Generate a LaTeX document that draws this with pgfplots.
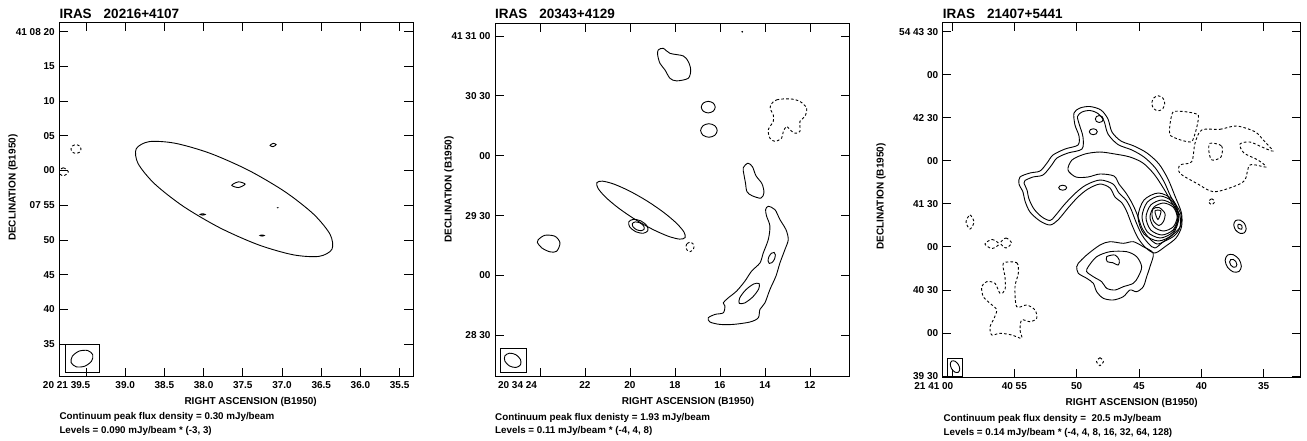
\documentclass[border=0pt]{standalone}
\usepackage{pgfplots}
\pgfplotsset{compat=1.18}
\usepackage{fontspec}
\setmainfont{Liberation Sans}
\pgfplotsset{
  mapax/.style={scale only axis, anchor=south west, x dir=reverse,
    axis line style={line width=0.9pt}, tick style={line width=0.8pt, black},
    major tick length=8.5pt, tick align=inside, minor tick num=0,
    tick label style={font=\fontsize{10}{12}\selectfont\bfseries},
    label style={font=\fontsize{10}{12}\selectfont\bfseries},
    xticklabel shift=1.5pt, yticklabel shift=1pt,
    xlabel={RIGHT ASCENSION (B1950)}, ylabel={DECLINATION (B1950)}},
  c/.style={black, line width=0.9pt, smooth cycle, mark=none},
  d/.style={c, dash pattern=on 2.6pt off 2.2pt},
  bx/.style={black, line width=0.8pt, sharp plot, mark=none},
}
\begin{document}
\begin{tikzpicture}
\path[use as bounding box] (0pt,0pt) rectangle (1307pt,440pt);
% ================= Panel 1 =================
\begin{axis}[mapax, at={(59.3pt,63.3pt)}, width=353.7pt, height=354pt,
  xmin=35.33, xmax=39.84, ymin=-29.7, ymax=21.3,
  xtick={39.5,39,38.5,38,37.5,37,36.5,36,35.5},
  xticklabels={{\makebox[8.6pt][r]{20 21 39.5}},39.0,38.5,38.0,37.5,37.0,36.5,36.0,35.5},
  ytick={-25,-20,-15,-10,-5,0,5,10,15,20},
  yticklabels={35,40,45,50,07 55,00,05,10,15,41 08 20},
  xlabel style={at={(axis description cs:0.541,-0.0706)}, anchor=center},
  ylabel style={at={(axis description cs:-0.131,0.534)}, anchor=center}]
\addplot[c] coordinates {(36.363,-11.332) (36.528,-12.365) (36.859,-12.134) (37.304,-10.688) (37.796,-8.232) (38.260,-5.148) (38.625,-1.908) (38.835,0.999) (38.859,3.132) (38.694,4.165) (38.363,3.934) (37.918,2.488) (37.426,0.032) (36.962,-3.052) (36.597,-6.292) (36.387,-9.199)};
\addplot[c] coordinates {(37.641,-2.12) (37.556,-1.63) (37.471,-1.96) (37.556,-2.45)};
\addplot[c] coordinates {(37.152,3.62) (37.114,3.92) (37.076,3.74) (37.114,3.44)};
\addplot[c] coordinates {(38.044,-6.32) (38.012,-6.22) (37.98,-6.32) (38.012,-6.42)};
\addplot[c] coordinates {(37.28,-9.36) (37.254,-9.28) (37.228,-9.36) (37.254,-9.44)};
\addplot[c, line width=0.6pt] coordinates {(37.06,-5.36) (37.054,-5.33) (37.048,-5.36) (37.054,-5.39)};
\addplot[d] coordinates {(39.691,3.10) (39.672,3.545) (39.627,3.73) (39.582,3.545) (39.563,3.10) (39.582,2.655) (39.627,2.47) (39.672,2.655)};
\addplot[d] coordinates {(39.853,-0.19) (39.789,0.39) (39.725,-0.19) (39.789,-0.77)};
\addplot[bx] coordinates {(39.76,-25.07) (39.334,-25.07) (39.334,-29.13) (39.76,-29.13) (39.76,-25.07)};
\addplot[c] coordinates {(39.413,-26.53) (39.429,-27.468) (39.516,-28.19) (39.624,-28.274) (39.689,-27.67) (39.673,-26.732) (39.586,-26.01) (39.478,-25.926)};
\end{axis}
\node[anchor=base west, inner sep=0pt, font=\fontsize{13.5}{16}\selectfont\bfseries] at (59.3pt,421pt) {IRAS\hspace{12pt}20216+4107};
\node[anchor=base west, inner sep=0pt, font=\fontsize{9.8}{12}\selectfont\bfseries] at (59.3pt,21pt) {Continuum peak flux density = 0.30 mJy/beam};
\node[anchor=base west, inner sep=0pt, font=\fontsize{9.8}{12}\selectfont\bfseries] at (59.3pt,6.7pt) {Levels = 0.090 mJy/beam * (-3, 3)};
% ================= Panel 2 =================
\begin{axis}[mapax, at={(495pt,63.3pt)}, width=354.3pt, height=353.4pt,
  xmin=10.25, xmax=26.0, ymin=-110.7, ymax=66.35,
  xtick={24,22,20,18,16,14,12},
  xticklabels={{\makebox[0pt][r]{20 34 24\hspace{3pt}}},22,20,18,16,14,12},
  ytick={-90,-60,-30,0,30,60},
  yticklabels={28 30,00,29 30,00,30 30,41 31 00},
  xlabel style={at={(axis description cs:0.545,-0.0707)}, anchor=center},
  ylabel style={at={(axis description cs:-0.130,0.530)}, anchor=center}]
\addplot[c] coordinates {(18.742,53) (18.52,53.8) (18.222,51.3) (17.631,50) (17.409,47.2) (17.30,43) (17.409,38.8) (17.93,37.5) (18.222,38.8) (18.444,43) (18.667,46.3) (18.769,50.5)};
\addplot[c] coordinates {(16.831,24.35) (16.74,26.40) (16.52,27.25) (16.30,26.40) (16.209,24.35) (16.30,22.30) (16.52,21.45) (16.74,22.30)};
\addplot[c] coordinates {(16.86,12.65) (16.752,15.05) (16.49,16.05) (16.228,15.05) (16.12,12.65) (16.228,10.25) (16.49,9.25) (16.752,10.25)};
\addplot[d] coordinates {(13.747,25.5) (13.48,28) (12.889,28.5) (12.444,27.2) (12.148,23.8) (12.222,19.7) (12.444,17.2) (12.444,12.2) (12.667,11.3) (12.889,13) (13.037,14.7) (13.185,12.2) (13.259,8.8) (13.556,7.2) (13.778,8.8) (13.852,13) (13.63,17.2) (13.63,20.5) (13.747,23)};
\addplot[c] coordinates {(14.964,-6) (14.756,-3.75) (14.556,-5.5) (14.40,-10) (14.133,-14) (14.044,-18.5) (14.178,-21.25) (14.578,-20) (14.80,-18) (14.867,-13.5) (14.933,-9.5)};
\addplot[c] coordinates {(13.852,-25.35) (13.556,-27) (13.333,-32) (13.067,-37) (12.963,-42) (13.111,-47) (13.333,-53.7) (13.511,-60.3) (13.778,-67) (14.0,-73.7) (14.222,-77) (14.296,-81.2) (14.667,-83.3) (15.407,-84.5) (16.0,-84.5) (16.444,-83.3) (16.52,-81.2) (16.222,-79.5) (15.852,-78.7) (15.778,-75.3) (15.852,-73.7) (15.63,-71.2) (15.259,-67.8) (14.889,-62.8) (14.593,-57.8) (14.222,-53.7) (14.074,-48.7) (13.852,-42) (13.778,-35.3) (13.926,-30.3) (13.97,-27)};
\addplot[c] coordinates {(13.593,-48.45) (13.537,-49.68) (13.577,-51.8) (13.689,-53.57) (13.807,-53.95) (13.863,-52.72) (13.823,-50.6) (13.711,-48.83)};
\addplot[c] coordinates {(14.26,-64.05) (14.278,-66.75) (14.543,-70.77) (14.90,-73.75) (15.14,-73.95) (15.122,-71.25) (14.857,-67.23) (14.50,-64.25)};
\addplot[c] coordinates {(17.551,-41.03) (17.799,-41.77) (18.308,-40.29) (18.999,-36.84) (19.77,-31.915) (20.501,-26.28) (21.08,-20.805) (21.421,-16.307) (21.471,-13.47) (21.223,-12.733) (20.714,-14.209) (20.023,-17.662) (19.252,-22.585) (18.521,-28.218) (17.942,-33.695) (17.601,-38.193)};
\addplot[c] coordinates {(19.208,-37.57) (19.412,-38.84) (19.744,-38.07) (20.01,-35.70) (20.054,-33.13) (19.85,-31.86) (19.518,-32.63) (19.252,-35.0)};
\addplot[c] coordinates {(19.369,-36.725) (19.497,-37.54) (19.703,-37.07) (19.867,-35.59) (19.893,-33.975) (19.765,-33.16) (19.56,-33.63) (19.395,-35.11)};
\addplot[c] coordinates {(24.076,-42) (23.778,-39.85) (23.333,-40.35) (23.111,-43.65) (23.258,-47.85) (23.556,-48.15) (23.924,-46.15) (24.12,-43.35)};
\addplot[d] coordinates {(17.511,-45.65) (17.459,-43.95) (17.333,-43.25) (17.207,-43.95) (17.155,-45.65) (17.207,-47.35) (17.333,-48.05) (17.459,-47.35)};
\addplot[only marks, mark=*, mark size=0.6pt, black] coordinates {(15.01,62.15)};
\addplot[bx] coordinates {(25.778,-96.65) (24.591,-96.65) (24.591,-108.35) (25.778,-108.35) (25.778,-96.65)};
\addplot[c] coordinates {(24.866,-104.75) (25.07,-106.08) (25.357,-105.315) (25.56,-102.9) (25.56,-100.25) (25.356,-98.92) (25.069,-99.685) (24.866,-102.1)};
\end{axis}
\node[anchor=base west, inner sep=0pt, font=\fontsize{13.5}{16}\selectfont\bfseries] at (495pt,421pt) {IRAS\hspace{12pt}20343+4129};
\node[anchor=base west, inner sep=0pt, font=\fontsize{9.8}{12}\selectfont\bfseries] at (495pt,20pt) {Continuum peak flux denisty = 1.93 mJy/beam};
\node[anchor=base west, inner sep=0pt, font=\fontsize{9.8}{12}\selectfont\bfseries] at (495pt,6.7pt) {Levels = 0.11 mJy/beam * (-4, 4, 8)};
% ================= Panel 3 =================
\begin{axis}[mapax, at={(942.7pt,62.3pt)}, width=357.3pt, height=355pt,
  xmin=32.09, xmax=60.746, ymin=-151.2, ymax=96.3,
  xtick={60,55,50,45,40,35},
  xticklabels={{\makebox[2.6pt][r]{21 41 00}},40 55,50,45,40,35},
  ytick={-150,-120,-90,-60,-30,0,30,60,90},
  yticklabels={39 30,00,40 30,00,41 30,00,42 30,00,54 43 30},
  xlabel style={at={(axis description cs:0.529,-0.0721)}, anchor=center},
  ylabel style={at={(axis description cs:-0.1727,0.5104)}, anchor=center}]
% main emission, level 4
\addplot[c] coordinates {(50.217,33.33) (49.736,36.81) (48.934,37.86) (48.052,35.42) (47.49,29.15) (47.17,20.08) (46.448,13.81) (45.405,10.33) (44.363,5.45) (43.40,-2.22) (42.679,-12.68) (42.118,-24.53) (41.596,-36.38) (41.596,-46.14) (42.037,-53.81) (42.839,-59.38) (43.722,-64.26) (44.443,-60.77) (45.085,-53.81) (45.566,-44.74) (45.967,-35.68) (46.368,-29.41) (46.929,-25.22) (47.33,-18.95) (48.132,-16.16) (49.094,-19.65) (49.896,-25.22) (50.698,-32.89) (51.50,-41.26) (52.141,-44.74) (52.943,-41.95) (53.745,-35.68) (54.146,-28.01) (54.307,-21.74) (54.627,-16.16) (54.547,-11.28) (53.745,-8.49) (52.943,-7.10) (52.382,-1.53) (51.901,4.05) (50.939,8.23) (49.896,11.02) (49.816,17.30) (50.137,24.96)};
% level 8
\addplot[c] coordinates {(49.936,30.89) (49.575,34.03) (48.934,35.07) (48.292,32.98) (47.811,27.75) (47.49,18.69) (46.688,11.37) (45.566,7.54) (44.604,2.66) (43.722,-4.66) (43.0,-14.42) (42.438,-25.22) (41.668,-36.38) (41.668,-45.44) (42.318,-51.71) (43.08,-56.59) (43.722,-60.77) (44.203,-57.99) (44.764,-51.71) (45.245,-42.65) (45.646,-33.59) (46.047,-27.31) (46.608,-22.44) (47.089,-16.16) (48.132,-13.37) (49.255,-16.86) (50.137,-22.78) (51.019,-30.80) (51.74,-38.47) (52.141,-41.61) (52.783,-39.17) (53.424,-33.59) (53.825,-26.62) (53.986,-20.34) (54.226,-15.47) (54.146,-13.72) (53.505,-11.28) (52.703,-9.89) (52.061,-3.62) (51.58,1.96) (50.698,5.45) (49.575,8.23) (49.495,16.60) (49.776,24.96)};
% level 16
\addplot[c] coordinates {(50.377,0.57) (49.335,4.75) (48.132,6.14) (46.929,4.75) (45.726,2.66) (44.684,-1.53) (43.802,-9.19) (43.0,-19.65) (42.358,-29.41) (41.733,-37.77) (41.733,-46.83) (42.198,-52.41) (42.92,-55.90) (43.561,-57.99) (44.203,-53.81) (44.764,-46.83) (45.165,-37.07) (45.566,-29.41) (46.047,-22.44) (46.608,-16.16) (47.009,-10.59) (48.132,-9.19) (49.094,-11.28) (50.056,-11.28) (50.698,-6.40)};
\addplot[c] coordinates {(48.508,29.15) (48.414,30.875) (48.188,31.59) (47.962,30.875) (47.868,29.15) (47.962,27.425) (48.188,26.71) (48.414,27.425)};
\addplot[c] coordinates {(48.989,20.29) (48.895,21.768) (48.669,22.38) (48.443,21.768) (48.349,20.29) (48.443,18.812) (48.669,18.2) (48.895,18.812)};
\addplot[c] coordinates {(51.443,-18.74) (51.349,-17.51) (51.123,-17.0) (50.897,-17.51) (50.803,-18.74) (50.897,-19.97) (51.123,-20.48) (51.349,-19.97)};
% core
\addplot[c] coordinates {(45.085,-39.16) (44.603,-27.33) (43.441,-22.43) (42.279,-27.33) (41.797,-39.16) (42.279,-50.99) (43.441,-55.89) (44.603,-50.99)};
\addplot[c] coordinates {(44.763,-39.16) (44.336,-28.81) (43.304,-24.52) (42.272,-28.81) (41.845,-39.16) (42.272,-49.51) (43.304,-53.80) (44.336,-49.51)};
\addplot[c] coordinates {(44.443,-39.51) (44.07,-30.88) (43.168,-27.31) (42.266,-30.88) (41.893,-39.51) (42.266,-48.14) (43.168,-51.71) (44.07,-48.14)};
\addplot[c] coordinates {(44.123,-39.16) (43.803,-32.26) (43.032,-29.40) (42.261,-32.26) (41.941,-39.16) (42.261,-46.06) (43.032,-48.92) (43.803,-46.06)};
\addplot[c] coordinates {(43.882,-33.59) (43.40,-32.54) (42.92,-36.73) (43.04,-42.30) (43.40,-45.09) (43.842,-41.95) (43.962,-37.77)};
\addplot[c] coordinates {(43.722,-34.98) (43.24,-34.98) (43.481,-40.91)};
% southern blob
\addplot[c] coordinates {(49.872,-71.44) (49.198,-65.65) (48.132,-58.68) (47.33,-56.38) (46.263,-57.50) (45.461,-56.38) (44.659,-59.87) (43.858,-64.47) (44.122,-73.81) (44.387,-80.78) (44.659,-87.75) (45.189,-91.24) (45.726,-90.05) (46.263,-94.72) (47.065,-97.02) (47.867,-95.84) (48.396,-91.24) (48.669,-85.38) (49.198,-81.90) (49.872,-78.41) (50.0,-73.81)};
\addplot[c] coordinates {(49.07,-73.81) (48.396,-66.84) (47.33,-63.35) (45.991,-63.35) (45.189,-66.84) (44.788,-73.81) (45.061,-80.78) (45.461,-85.38) (46.263,-87.75) (46.929,-90.05) (47.595,-88.87) (47.996,-84.27) (48.669,-80.78) (49.198,-77.29)};
\addplot[c] coordinates {(47.595,-66.84) (46.929,-65.65) (46.584,-69.14) (46.664,-72.62) (47.113,-71.02) (47.547,-70.32)};
% isolated sources
\addplot[c] coordinates {(36.56,-50.21) (36.406,-47.398) (36.544,-43.727) (36.894,-41.346) (37.25,-41.65) (37.404,-44.462) (37.266,-48.133) (36.916,-50.514)};
\addplot[c] coordinates {(36.767,-47.642) (36.761,-45.049) (37.043,-44.218) (37.049,-46.811)};
\addplot[c] coordinates {(36.983,-77.149) (36.793,-73.495) (36.983,-68.638) (37.443,-65.423) (37.903,-65.731) (38.093,-69.385) (37.903,-74.242) (37.443,-77.457)};
\addplot[c] coordinates {(37.236,-74.009) (37.151,-72.365) (37.236,-70.179) (37.443,-68.733) (37.65,-68.871) (37.735,-70.515) (37.65,-72.701) (37.443,-74.147)};
% negative contours
\addplot[d] coordinates {(43.978,40.09) (43.825,43.788) (43.457,45.32) (43.089,43.788) (42.936,40.09) (43.089,36.392) (43.457,34.86) (43.825,36.392)};
\addplot[d, tension=0.3] coordinates {(42.254,34.24) (40.249,31.93) (40.778,13.32) (42.519,17.99)};
\addplot[d] coordinates {(39.976,21.48) (38.509,21.97) (37.17,24.27) (35.702,20.29) (35.037,14.51) (34.259,6.84) (35.141,9.63) (36.104,13.11) (36.905,11.72) (36.585,5.45) (35.462,0.57) (34.821,-4.31) (36.104,-2.92) (36.504,-13.37) (37.443,-18.04) (39.046,-21.53) (40.378,-15.67) (41.717,-8.70) (41.717,-2.92) (40.778,-0.62) (40.514,12.21)};
\addplot[d] coordinates {(39.311,12.21) (38.373,10.33) (38.429,2.66) (39.151,0.57) (39.391,6.24)};
\addplot[d] coordinates {(39.414,-28.5) (39.174,-26.4) (38.934,-28.5) (39.174,-30.6)};
\addplot[d] coordinates {(58.877,-42.65) (58.557,-37.75) (58.237,-42.65) (58.557,-47.55)};
\addplot[d] coordinates {(57.353,-57.99) (56.792,-54.85) (56.231,-57.99) (56.792,-61.13)};
\addplot[d] coordinates {(56.111,-57.29) (55.67,-53.8) (55.229,-57.29) (55.67,-60.78)};
\addplot[d] coordinates {(55.886,-71.44) (54.812,-71.02) (54.683,-78.41) (54.948,-87.75) (54.812,-101.69) (54.01,-100.51) (53.344,-103.99) (53.208,-109.78) (53.745,-112.15) (54.411,-110.96) (54.547,-117.93) (54.411,-123.72) (55.213,-121.42) (56.151,-120.23) (56.816,-121.42) (56.953,-115.63) (56.688,-110.96) (56.415,-103.99) (56.953,-99.32) (57.49,-94.72) (57.618,-87.75) (57.217,-84.27) (56.552,-85.38) (56.151,-92.35) (55.75,-90.05) (55.75,-80.78)};
\addplot[d] coordinates {(48.412,-140.03) (48.132,-137.23) (47.852,-140.03) (48.132,-142.83)};
% beam
\addplot[bx] coordinates {(60.377,-137.66) (59.142,-137.66) (59.142,-150.0) (60.377,-150.0) (60.377,-137.66)};
\addplot[c] coordinates {(59.498,-147.444) (59.377,-145.308) (59.481,-142.126) (59.747,-139.76) (60.02,-139.596) (60.141,-141.732) (60.037,-144.914) (59.771,-147.28)};
\end{axis}
\node[anchor=base west, inner sep=0pt, font=\fontsize{13.5}{16}\selectfont\bfseries] at (942.7pt,421pt) {IRAS\hspace{12pt}21407+5441};
\node[anchor=base west, inner sep=0pt, font=\fontsize{9.8}{12}\selectfont\bfseries] at (943.5pt,18.5pt) {Continuum peak flux density =\ \ 20.5 mJy/beam};
\node[anchor=base west, inner sep=0pt, font=\fontsize{9.8}{12}\selectfont\bfseries] at (943.5pt,5pt) {Levels = 0.14 mJy/beam * (-4, 4, 8, 16, 32, 64, 128)};
\end{tikzpicture}
\end{document}
